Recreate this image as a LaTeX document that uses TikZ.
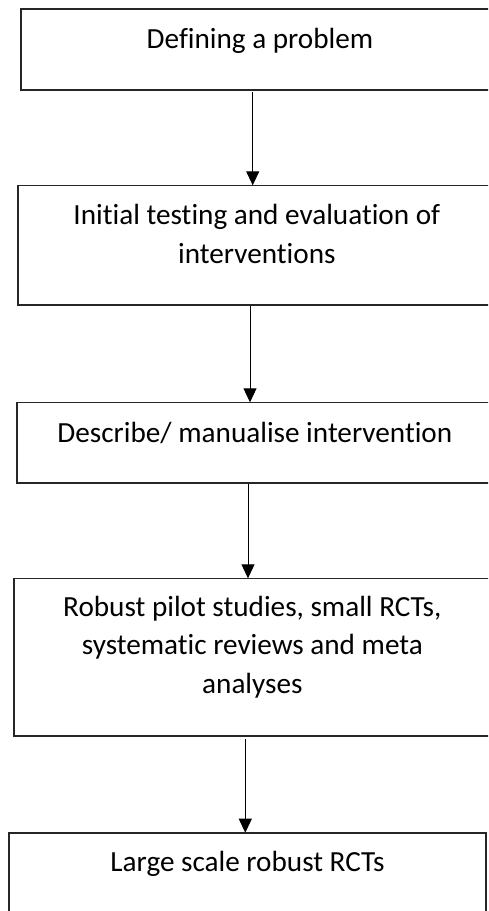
\documentclass[tikz,border=0pt]{standalone}
\usepackage{fontspec}
\setmainfont{Carlito}[Ligatures={NoCommon,NoRequired,NoContextual}]
\usetikzlibrary{arrows.meta}
\begin{document}
\begin{tikzpicture}[x=1pt,y=-1pt,
  box/.style={draw=black!85, line width=1.6pt, rectangle, inner sep=0pt, outer sep=0pt, anchor=north west},
  lbl/.style={font=\fontsize{29.2}{38.3}\selectfont, align=center, anchor=base, inner sep=0pt},
  arr/.style={draw=black, line width=1pt, -{Triangle[width=13pt,length=14pt]}}]
\useasboundingbox (0,0) rectangle (488,911);
\clip (0,0) rectangle (488,911);
\fill[white] (0,0) rectangle (488,911);
% boxes
\node[box, minimum width=478pt, minimum height=81pt] (b1) at (21,9) {};
\node[box, minimum width=478.3pt, minimum height=119.4pt] (b2) at (17.7,185.3) {};
\node[box, minimum width=476.3pt, minimum height=80.4pt] (b3) at (16.7,402.3) {};
\node[box, minimum width=477.3pt, minimum height=157.7pt] (b4) at (13.7,578.3) {};
\node[box, minimum width=477pt, minimum height=140pt] (b5) at (9,832.7) {};
% baselines (of the last line of each label)
\coordinate (y1) at (0,48);
\coordinate (y2) at (0,263);
\coordinate (y3) at (0,442);
\coordinate (y4) at (0,693);
\coordinate (y5) at (0,871);
\node[lbl] (t1) at (b1.north |- y1) {Defining a problem};
\node[lbl] (t2) at (b2.north |- y2) {Initial testing and evaluation of\\interventions};
\node[lbl] (t3) at (b3.north |- y3) {Describe/ manualise intervention};
\node[lbl] (t4) at (b4.north |- y4) {Robust pilot studies, small RCTs,\\systematic reviews and meta\\analyses};
\node[lbl] (t5) at (b5.north |- y5) {Large scale robust RCTs};
% arrows
\coordinate (a1) at (252.7,0);
\coordinate (a2) at (250,0);
\coordinate (a3) at (248,0);
\coordinate (a4) at (245.3,0);
\draw[arr] ([yshift=-2pt]b1.south -| a1) -- (b2.north -| a1);
\draw[arr] ([yshift=-1pt]b2.south -| a2) -- (b3.north -| a2);
\draw[arr] ([yshift=-1pt]b3.south -| a3) -- (b4.north -| a3);
\draw[arr] ([yshift=-3pt]b4.south -| a4) -- (b5.north -| a4);
\end{tikzpicture}
\end{document}
